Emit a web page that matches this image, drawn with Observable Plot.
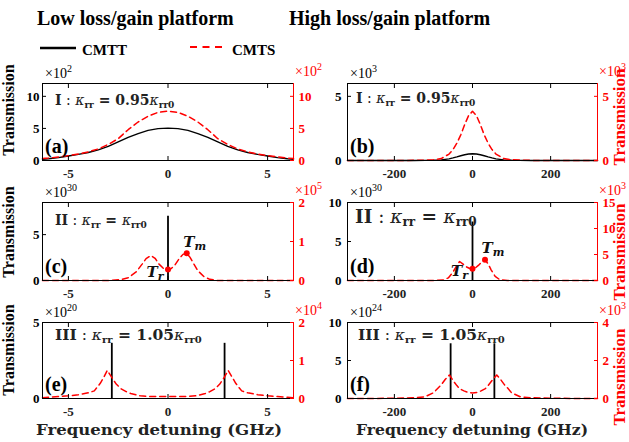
<!DOCTYPE html>
<html><head><meta charset="utf-8">
<script src="https://cdn.jsdelivr.net/npm/d3@7"></script>
<script src="https://cdn.jsdelivr.net/npm/@observablehq/plot@0.6"></script>
<style>
body{margin:0;background:#fff;}
#wrap{position:relative;width:629px;height:442px;overflow:hidden;background:#fff;font-family:'Liberation Serif',serif;}
</style></head><body><div id="wrap"></div>
<script>
// ---------- data ----------
const xTicksLow = [-5, 0, 5];
const xTicksHigh = [-200, 0, 200];
// (a) low platform, case I  (black x10^2, red x10^2)
const xA = [-6.3,-6,-5.5,-5,-4.5,-4,-3.5,-3,-2.5,-2,-1.5,-1,-0.5,0,0.5,1,1.5,2,2.5,3,3.5,4,4.5,5,5.5,6,6.3];
const blackA = [0.2,0.27,0.45,0.7,0.95,1.25,1.65,2.2,2.9,3.6,4.2,4.7,4.97,5.05,4.97,4.7,4.2,3.6,2.9,2.2,1.65,1.25,0.95,0.7,0.45,0.27,0.2];
const redA = [0.3,0.38,0.55,0.75,1.0,1.35,1.8,2.5,3.4,4.8,6.0,6.9,7.5,7.7,7.5,6.9,6.0,4.8,3.4,2.5,1.8,1.35,1.0,0.75,0.55,0.38,0.3];
// (b) high platform, case I (black x10^3, red x10^3)
const xB = [-320,-200,-150,-120,-100,-80,-60,-50,-40,-30,-20,-10,0,10,20,30,40,50,60,80,100,120,150,200,320];
const blackB = [0,0,0.005,0.01,0.02,0.05,0.13,0.2,0.28,0.37,0.45,0.51,0.53,0.51,0.45,0.37,0.28,0.2,0.13,0.05,0.02,0.01,0.005,0,0];
const redB = [0,0,0.01,0.03,0.06,0.15,0.5,0.85,1.35,2.0,2.8,3.5,3.83,3.5,2.8,2.0,1.35,0.85,0.5,0.15,0.06,0.03,0.01,0,0];
// (c) low platform, case II (black spike x10^30, red x10^5)
const xC = [-6.3,-3,-2.4,-2,-1.6,-1.3,-1.1,-0.86,-0.65,-0.45,-0.25,-0.1,0,0.15,0.35,0.55,0.75,0.94,1.1,1.3,1.5,1.8,2.1,2.5,6.3];
const redC = [0,0,0.02,0.07,0.22,0.42,0.56,0.64,0.57,0.42,0.32,0.29,0.28,0.3,0.4,0.55,0.67,0.70,0.6,0.42,0.25,0.1,0.03,0,0];
const spikeXC = [0], spikeHC = [7.0];
const markXC = [0, 0.94], markYC = [0.28, 0.70], markNameC = ["r", "m"];
// (d) high platform, case II (black spike x10^30, red x10^3)
const xD = [-320,-100,-75,-62,-50,-40,-33,-25,-15,-7,0,7,15,24,32,40,48,58,70,90,320];
const redD = [0,0,0.08,0.5,1.6,2.9,3.65,3.2,2.6,2.3,2.25,2.4,2.9,3.6,3.98,3.2,2.0,0.8,0.15,0,0];
const spikeXD = [0], spikeHD = [7.5];
const markXD = [0, 32], markYD = [2.25, 3.98], markNameD = ["r", "m"];
// (e) low platform, case III (black spikes x10^20, red x10^4)
const xE = [-6.3,-6,-5.5,-5,-4.5,-4,-3.7,-3.4,-3.2,-3.05,-2.83,-2.6,-2.37,-2.1,-1.87,-1.4,-1,0,1,1.4,1.87,2.1,2.37,2.6,2.83,3.02,3.2,3.4,3.7,4,4.5,5,5.5,6,6.3];
const redE = [0.02,0.03,0.05,0.07,0.1,0.15,0.2,0.4,0.58,0.74,0.56,0.38,0.26,0.18,0.13,0.07,0.055,0.05,0.055,0.07,0.13,0.18,0.26,0.38,0.56,0.74,0.58,0.4,0.2,0.15,0.1,0.07,0.05,0.03,0.02];
const spikeXE = [-2.82, 2.84], spikeHE = [3.63, 3.63];
// (f) high platform, case III (black spikes x10^24, red x10^3)
const xF = [-320,-200,-150,-123,-100,-88,-80,-70,-59,-50,-40,-33,-22,-11,0,11,22,33,40,50,62,72,82,90,100,123,150,200,320];
const redF = [0,0.01,0.04,0.08,0.3,0.55,0.72,1.0,1.24,0.95,0.68,0.52,0.4,0.32,0.29,0.32,0.4,0.52,0.68,0.95,1.24,1.0,0.72,0.55,0.3,0.08,0.04,0.01,0];
const spikeXF = [-56, 56], spikeHF = [7.2, 7.2];

// ---------- layout ----------
const RED = "#ff0000";
const FONT = "'Liberation Serif', serif";
const MATH = "'DejaVu Serif', serif";
const cols = [
  {left: 0, width: 320, ml: 42, mr: 27, domain: [-6.3, 6.3], ticks: xTicksLow, padL: 7},
  {left: 320, width: 309, ml: 27, mr: 32, domain: [-320, 320], ticks: xTicksHigh, padL: 10}
];
const rows = [
  {top: 60, height: 125, mt: 23, mb: 25},
  {top: 180, height: 125, mt: 22, mb: 25},
  {top: 300, height: 142, mt: 22, mb: 44}
];
const panels = [
  {id:"a", c:0, r:0, yL:[0,12], tL:[0,5,10], yR:[0,12], tR:[0,5,10], eL:"2", eR:"2",
   black:{x:xA, y:blackA}, red:{x:xA, y:redA}},
  {id:"b", c:1, r:0, yL:[0,6], tL:[0,5], yR:[0,6], tR:[0,5], eL:"3", eR:"3",
   black:{x:xB, y:blackB}, red:{x:xB, y:redB}},
  {id:"c", c:0, r:1, yL:[0,8.5], tL:[0,5], yR:[0,2], tR:[0,1,2], eL:"30", eR:"5",
   spikes:{x:spikeXC, h:spikeHC}, red:{x:xC, y:redC}, marks:{x:markXC, y:markYC, n:markNameC}},
  {id:"d", c:1, r:1, yL:[0,10], tL:[0,5,10], yR:[0,15], tR:[0,5,10,15], eL:"30", eR:"3",
   spikes:{x:spikeXD, h:spikeHD}, red:{x:xD, y:redD}, marks:{x:markXD, y:markYD, n:markNameD}},
  {id:"e", c:0, r:2, yL:[0,5], tL:[0,5], yR:[0,2], tR:[0,1,2], eL:"20", eR:"4",
   spikes:{x:spikeXE, h:spikeHE}, red:{x:xE, y:redE}},
  {id:"f", c:1, r:2, yL:[0,10], tL:[0,5,10], yR:[0,4], tR:[0,2,4], eL:"24", eR:"3",
   spikes:{x:spikeXF, h:spikeHF}, red:{x:xF, y:redF}}
];

const wrap = document.getElementById("wrap");
const built = {};

for (const p of panels) {
  const col = cols[p.c], row = rows[p.r];
  const k = p.yL[1] / p.yR[1];
  const redRows = p.red.x.map((x, i) => ({x, y: p.red.y[i] * k}));
  const marks = [];
  if (p.black) marks.push(Plot.line(p.black.x.map((x, i) => ({x, y: p.black.y[i]})), {x:"x", y:"y", stroke:"black", strokeWidth:1.4}));
  if (p.spikes) marks.push(Plot.ruleX(p.spikes.x.map((x, i) => ({x, h: p.spikes.h[i]})), {x:"x", y1:0, y2:"h", stroke:"black", strokeWidth:1.8}));
  marks.push(Plot.line(redRows, {x:"x", y:"y", stroke:RED, strokeWidth:1.5, strokeDasharray:"6,4"}));
  if (p.marks) marks.push(Plot.dot(p.marks.x.map((x, i) => ({x, y: p.marks.y[i] * k})), {x:"x", y:"y", r:3, fill:RED, stroke:"none"}));
  marks.push(
    Plot.frame({stroke:"black", strokeWidth:1}),
    Plot.ruleX([col.domain[1]], {stroke:RED, strokeWidth:1}),
    Plot.axisX(col.ticks, {anchor:"bottom", tickSize:-4, tickPadding:12, tickFormat:d => String(d), fontWeight:"bold", fontSize:13, fontFamily:FONT, fill:"#222", label:null}),
    Plot.axisX(col.ticks, {anchor:"top", tickSize:-4, tickFormat:() => "", label:null}),
    Plot.axisY(p.tL, {anchor:"left", tickSize:-4, tickPadding:col.padL, tickFormat:d => String(d), fontWeight:"bold", fontSize:13, fontFamily:FONT, label:null}),
    Plot.axisY(p.tR.map(v => v * k), {anchor:"right", tickSize:-4, tickPadding:9, tickFormat:v => String(Math.round(v / k)), fontWeight:"bold", fontSize:13, fontFamily:FONT, color:RED, label:null})
  );
  const svg = Plot.plot({
    width: col.width, height: row.height,
    marginLeft: col.ml, marginRight: col.mr, marginTop: row.mt, marginBottom: row.mb,
    x: {domain: col.domain, label: null},
    y: {domain: p.yL, label: null},
    style: {fontFamily: FONT, fontSize: "13px", background: "transparent", overflow: "visible", color: "black"},
    marks
  });
  svg.style.position = "absolute";
  svg.style.left = col.left + "px";
  svg.style.top = row.top + "px";
  wrap.appendChild(svg);
  built[p.id] = {svg, p, col, row, k};
}

// ---------- overlay text ----------
const ov = d3.select(wrap).append("svg")
  .attr("width", 629).attr("height", 442)
  .style("position", "absolute").style("left", 0).style("top", 0)
  .style("font-family", FONT);

function rich(x, y, parts, attrs = {}, family = FONT) {
  const t = ov.append("text").attr("x", x).attr("y", y).style("font-family", family);
  for (const [a, v] of Object.entries(attrs)) t.attr(a, v);
  let shift = 0;
  for (const part of parts) {
    const s = part.sh || 0;
    const ts = t.append("tspan").text(part.t).attr("dy", s - shift);
    shift = s;
    if (part.size) ts.attr("font-size", part.size);
    if (part.w) ts.attr("font-weight", part.w);
    if (part.st) ts.attr("font-style", part.st);
    if (part.fill) ts.attr("fill", part.fill);
  }
  return t;
}

// titles
rich(37, 25, [{t:"Low loss/gain platform"}], {"font-size":20, "font-weight":"bold"});
rich(289, 25, [{t:"High loss/gain platform"}], {"font-size":20, "font-weight":"bold"});
// legend
ov.append("line").attr("x1", 40).attr("x2", 76).attr("y1", 48).attr("y2", 48).attr("stroke", "black").attr("stroke-width", 2.6);
rich(82, 55, [{t:"CMTT"}], {"font-size":15, "font-weight":"bold"});
ov.append("line").attr("x1", 190).attr("x2", 226).attr("y1", 47).attr("y2", 47).attr("stroke", RED).attr("stroke-width", 2.2).attr("stroke-dasharray", "7,5.5");
rich(232, 55, [{t:"CMTS"}], {"font-size":15, "font-weight":"bold"});

// y labels
const leftLab = [110, 232, 350];
const rightLab = [117, 252, 377];
leftLab.forEach(cy => rich(0, 0, [{t:"Transmission"}], {"font-size":16, "font-weight":"bold", "text-anchor":"middle", transform:`translate(14,${cy}) rotate(-90)`}));
rightLab.forEach(cy => rich(0, 0, [{t:"Transmission"}], {"font-size":17, "font-weight":"bold", "text-anchor":"middle", fill:RED, transform:`translate(625,${cy}) rotate(-90)`}));

// x labels
rich(36, 435, [{t:"Frequency detuning (GHz)"}], {"font-size":15, "font-weight":"bold", fill:"#222", textLength:246, lengthAdjust:"spacingAndGlyphs"}, MATH);
rich(356, 435, [{t:"Frequency detuning (GHz)"}], {"font-size":15, "font-weight":"bold", fill:"#222", textLength:232, lengthAdjust:"spacingAndGlyphs"}, MATH);

// exponent labels, panel tags, case annotations
const caseText = {
  a: {txt:["I", "0.95"], x:55, y:105, fs:14},
  b: {txt:["I", "0.95"], x:356, y:103, fs:14},
  c: {txt:["II", null], x:55, y:225, fs:14},
  d: {txt:["II", null], x:355, y:223, fs:18.5},
  e: {txt:["III", "1.05"], x:55, y:340, fs:15.5},
  f: {txt:["III", "1.05"], x:358, y:340, fs:15.5}
};
for (const id of Object.keys(built)) {
  const {p, col, row} = built[id];
  const fx0 = col.left + col.ml, fx1 = col.left + col.width - col.mr;
  const fy0 = row.top + row.mt, fy1 = row.top + row.height - row.mb;
  rich(fx0 + 3, fy0 - 5, [{t:"×10"}, {t:p.eL, sh:-6, size:10}], {"font-size":14});
  rich(fx1 + 2, fy0 - 7, [{t:"×10"}, {t:p.eR, sh:-6, size:10}], {"font-size":14, fill:RED});
  rich(fx0 + 3, fy1 - 7, [{t:`(${id})`}], {"font-size":20, "font-weight":"bold"});
  const ct = caseText[id], fs = ct.fs, sub = Math.round(fs * 0.66);
  const parts = [{t:ct.txt[0], w:"bold"}, {t:" : "}, {t:"κ", st:"italic"}, {t:"rr", sh:3, size:sub, w:"bold"}, {t:" = ", w:"bold"}];
  if (ct.txt[1]) parts.push({t:ct.txt[1], w:"bold"});
  parts.push({t:"κ", st:"italic"}, {t:"rr0", sh:3, size:sub, w:"bold"});
  rich(ct.x, ct.y, parts, {"font-size":fs, fill:"#222"}, MATH);
  // T_r / T_m labels placed from the plot's scales
  if (p.marks) {
    const sx = built[id].svg.scale("x"), sy = built[id].svg.scale("y");
    p.marks.x.forEach((mx, i) => {
      const px = col.left + sx.apply(mx), py = row.top + sy.apply(p.marks.y[i] * built[id].k);
      const isR = p.marks.n[i] === "r";
      const ox = isR ? -21 : -3, oy = isR ? 8 : -6;
      rich(px + ox, py + oy, [{t:"T", st:"italic"}, {t:p.marks.n[i], sh:3, size:11, st:"italic"}], {"font-size":15, "font-weight":"bold", fill:"#111"}, MATH);
    });
  }
}
</script></body></html>
